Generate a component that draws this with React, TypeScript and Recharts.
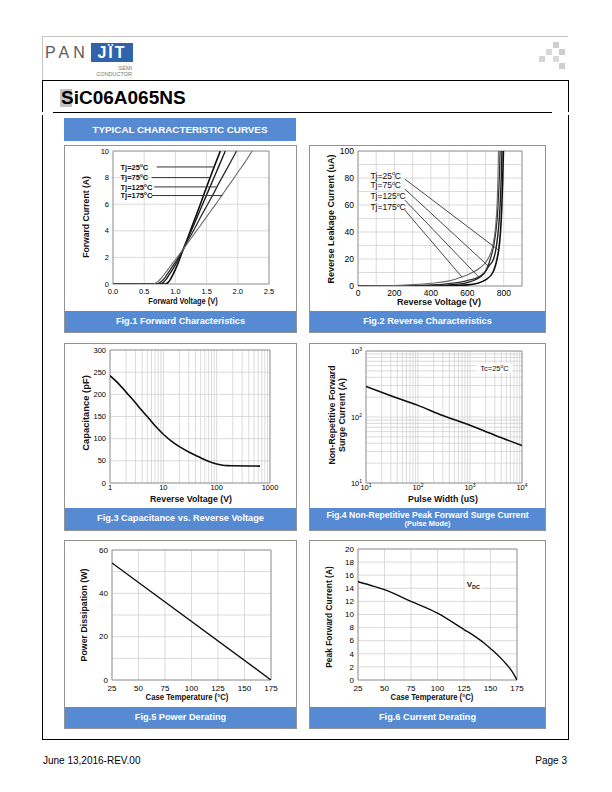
import React from 'react';
import {
  LineChart,
  Line,
  XAxis,
  YAxis,
  CartesianGrid,
  ReferenceLine,
  ReferenceDot,
  ReferenceArea,
} from 'recharts';

const SANS = '"Liberation Sans", Arial, Helvetica, sans-serif';
const BLUE = '#568bd4';
const GRID = '#d2d2d2';
const EDGE = '#9a9a9a';
const PANEL = '#939393';

// ---------- Fig.1 Forward characteristics
const fwdTicksX = [0, 0.5, 1, 1.5, 2, 2.5];
const fwdTicksY = [0, 2, 4, 6, 8, 10];
const fwdV25 = [0, 0.84, 0.88, 0.92, 0.96, 1.0, 1.05, 1.1, 1.2, 1.3, 1.4, 1.5, 1.6, 1.72];
const fwdI25 = [0, 0, 0.1, 0.35, 0.7, 1.1, 1.65, 2.3, 3.5, 4.75, 6.0, 7.3, 8.55, 10];
const fwdV75 = [0, 0.76, 0.8, 0.85, 0.9, 0.95, 1.0, 1.05, 1.1, 1.2, 1.3, 1.4, 1.5, 1.6, 1.7, 1.8];
const fwdI75 = [0, 0, 0.1, 0.35, 0.7, 1.05, 1.45, 1.9, 2.35, 3.4, 4.5, 5.6, 6.7, 7.8, 8.9, 10];
const fwdV125 = [0, 0.7, 0.75, 0.8, 0.85, 0.9, 0.95, 1.0, 1.05, 1.1, 1.2, 1.3, 1.4, 1.5, 1.6, 1.7, 1.8, 1.9, 1.98];
const fwdI125 = [0, 0, 0.1, 0.3, 0.6, 0.95, 1.3, 1.65, 2.0, 2.4, 3.25, 4.1, 5.0, 5.85, 6.7, 7.6, 8.45, 9.3, 10];
const fwdV175 = [0, 0.64, 0.7, 0.75, 0.8, 0.85, 0.9, 0.95, 1.0, 1.05, 1.1, 1.2, 1.3, 1.4, 1.5, 1.6, 1.7, 1.8, 1.9, 2.0, 2.1, 2.23];
const fwdI175 = [0, 0, 0.12, 0.32, 0.6, 0.9, 1.22, 1.53, 1.84, 2.14, 2.45, 3.1, 3.75, 4.4, 5.05, 5.7, 6.35, 7.05, 7.7, 8.4, 9.05, 10];
const fwdTemps = ['25', '75', '125', '175'];
const fwdTagX = 0.12;
const fwdTagY = [8.8, 8.0, 7.3, 6.65];
const fwdLeadStart = [0.7, 0.62, 0.66, 0.62];
const fwdLeadEnd = [1.62, 1.56, 1.66, 1.75];

// ---------- Fig.2 Reverse characteristics
const revTicksX = [0, 100, 200, 300, 400, 500, 600, 700, 800, 900];
const revLabelsX = [0, 200, 400, 600, 800];
const revTicksY = [0, 10, 20, 30, 40, 50, 60, 70, 80, 90, 100];
const revLabelsY = [0, 20, 40, 60, 80, 100];
const revV25 = [0, 400, 500, 600, 650, 700, 740, 763, 772, 782, 789, 794, 798];
const revI25 = [0, 0.05, 0.2, 0.8, 1.8, 4.5, 10, 20, 26.5, 40, 58, 78, 100];
const revV75 = [0, 300, 400, 500, 600, 650, 690, 717, 744, 760, 772, 780, 786, 790];
const revI75 = [0, 0.1, 0.3, 0.8, 2.5, 5, 9, 14.6, 20, 30, 44, 60, 80, 100];
const revV125 = [0, 200, 300, 400, 500, 600, 662, 700, 726, 745, 758, 767, 773, 777, 780];
const revI125 = [0, 0.1, 0.3, 0.8, 1.8, 4, 6.7, 11, 20, 30, 42, 56, 72, 86, 100];
const revV175 = [0, 100, 200, 300, 400, 500, 570, 620, 670, 713, 740, 755, 763, 768, 771];
const revI175 = [0, 0.1, 0.4, 1, 2, 3.8, 6.7, 9.5, 13.5, 20, 30, 44, 60, 80, 100];
const revTemps = ['25', '75', '125', '175'];
const revTagX = 68;
const revTagY = [81.7, 74.8, 66.8, 58.7];
const revLeadX0 = 257;
const revLeadY0 = [79.2, 71.8, 63.6, 56.2];
const revLeadX1 = [772, 717, 662, 570];
const revLeadY1 = [26.5, 14.6, 6.7, 6.7];

// ---------- Fig.3 Capacitance
const capTicksX = [1, 2, 3, 4, 5, 6, 7, 8, 9, 10, 20, 30, 40, 50, 60, 70, 80, 90, 100, 200, 300, 400, 500, 600, 700, 800, 900, 1000];
const capLabelsX = [1, 10, 100, 1000];
const capTicksY = [0, 50, 100, 150, 200, 250, 300];
const capV = [1, 1.5, 2, 3, 4, 5, 7, 10, 15, 20, 30, 50, 70, 100, 130, 160, 200, 400, 650];
const capPF = [242, 222, 205, 181, 163, 150, 129, 110, 92, 82, 70, 57, 49, 43, 40, 39.2, 39, 38.5, 38];

// ---------- Fig.4 Surge current
const surgeTicksX = [10, 20, 30, 40, 50, 60, 70, 80, 90, 100, 200, 300, 400, 500, 600, 700, 800, 900, 1000, 2000, 3000, 4000, 5000, 6000, 7000, 8000, 9000, 10000];
const surgeLabelsX = [10, 100, 1000, 10000];
const surgeTicksY = [10, 20, 30, 40, 50, 60, 70, 80, 90, 100, 200, 300, 400, 500, 600, 700, 800, 900, 1000];
const surgeLabelsY = [10, 100, 1000];
const surgeUs = [10, 30, 100, 300, 1000, 3000, 10000];
const surgeA = [290, 210, 150, 105, 75, 53, 37];

// ---------- Fig.5 Power derating
const tempTicks = [25, 50, 75, 100, 125, 150, 175];
const pdTicksY = [0, 10, 20, 30, 40, 50, 60];
const pdLabelsY = [0, 20, 40, 60];
const pdT = [25, 175];
const pdW = [54, 0];

// ---------- Fig.6 Current derating
const ifTicksY = [0, 2, 4, 6, 8, 10, 12, 14, 16, 18, 20];
const ifT = [25, 40, 50, 75, 100, 125, 135, 145, 150, 155, 160, 165, 170, 175];
const ifA = [15, 14.3, 13.8, 12, 10.2, 7.7, 6.7, 5.5, 4.8, 4.1, 3.3, 2.4, 1.4, 0];

type Pt = { x: number; y: number };
const zip = (xs: number[], ys: number[]): Pt[] => xs.map((x, i) => ({ x, y: ys[i] }));

const fixed1 = (v: number) => v.toFixed(1);
const plain = (v: number) => String(v);
const only = (list: number[]) => (v: number) => (list.includes(v) ? String(v) : null);
const pow10 = (list: number[]) => (v: number) =>
  list.includes(v) ? (
    <>
      10
      <tspan dy={-3} fontSize={5}>
        {Math.round(Math.log10(v))}
      </tspan>
    </>
  ) : null;

function tickOf(side: 'x' | 'y', size: number, fmt: (v: number) => React.ReactNode) {
  return (p: any) => {
    const c = fmt(p.payload.value);
    if (c === null) return <g />;
    return (
      <text
        x={p.x}
        y={p.y}
        dy={side === 'x' ? '0.72em' : '0.34em'}
        textAnchor={side === 'x' ? 'middle' : 'end'}
        fontSize={size}
        fontFamily={SANS}
        fill="#000"
      >
        {c}
      </text>
    );
  };
}

function centerOf(vb: any) {
  const v = vb || {};
  return { x: (v.x ?? 0) + (v.width ?? 0) / 2, y: (v.y ?? 0) + (v.height ?? 0) / 2 };
}

function TjTag(props: any) {
  const { x, y } = centerOf(props.viewBox);
  const s = props.size;
  return (
    <text x={x} y={y} dy="0.35em" fontSize={s} fontWeight={props.bold ? 700 : 400} fontFamily={SANS} fill="#111">
      {'Tj=' + props.temp}
      <tspan fontSize={s * 0.62} dy={-s * 0.38}>
        o
      </tspan>
      <tspan dy={s * 0.38}>C</tspan>
    </text>
  );
}

function BoxTag(props: any) {
  const { x, y } = centerOf(props.viewBox);
  return (
    <g>
      <rect x={x - props.w / 2} y={y - props.h / 2} width={props.w} height={props.h} fill="#fff" />
      <text
        x={x}
        y={y}
        dy="0.35em"
        textAnchor="middle"
        fontSize={props.size}
        fontWeight={props.bold ? 700 : 400}
        fontFamily={SANS}
        fill="#111"
      >
        {props.children}
      </text>
    </g>
  );
}

interface PlotProps {
  left: number;
  top: number;
  width: number;
  height: number;
  yw: number;
  xh: number;
  mt: number;
  mr: number;
  xDomain: [number, number];
  yDomain: [number, number];
  xTicks: number[];
  yTicks: number[];
  xLog?: boolean;
  yLog?: boolean;
  xFmt: (v: number) => React.ReactNode;
  yFmt: (v: number) => React.ReactNode;
  fs: number;
  xGap?: number;
  children?: React.ReactNode;
}

function Plot(p: PlotProps) {
  const gap = p.xGap ?? 5;
  return (
    <div style={{ position: 'absolute', left: p.left, top: p.top }}>
      <LineChart width={p.width} height={p.height} margin={{ top: p.mt, right: p.mr, bottom: 0, left: 0 }}>
        <CartesianGrid stroke={GRID} strokeWidth={0.8} />
        <XAxis
          type="number"
          dataKey="x"
          domain={p.xDomain}
          ticks={p.xTicks}
          scale={p.xLog ? 'log' : 'linear'}
          allowDataOverflow
          interval={0}
          height={p.xh}
          axisLine={false}
          tickLine={false}
          tickSize={gap - 1}
          tickMargin={1}
          tick={tickOf('x', p.fs, p.xFmt)}
        />
        <YAxis
          type="number"
          domain={p.yDomain}
          ticks={p.yTicks}
          scale={p.yLog ? 'log' : 'linear'}
          allowDataOverflow
          interval={0}
          width={p.yw}
          axisLine={false}
          tickLine={false}
          tickSize={2}
          tickMargin={2}
          tick={tickOf('y', p.fs, p.yFmt)}
        />
        <ReferenceArea
          x1={p.xDomain[0]}
          x2={p.xDomain[1]}
          y1={p.yDomain[0]}
          y2={p.yDomain[1]}
          fill="none"
          stroke={EDGE}
          strokeWidth={1}
        />
        {p.children}
      </LineChart>
    </div>
  );
}

function Panel({ x, y, w, h, bar, children }: { x: number; y: number; w: number; h: number; bar: number; children: React.ReactNode }) {
  return (
    <div
      style={{
        position: 'absolute',
        left: x,
        top: y,
        width: w,
        height: h,
        border: `1.3px solid ${PANEL}`,
        boxSizing: 'border-box',
      }}
    >
      <div
        style={{
          position: 'absolute',
          left: 0,
          right: 0,
          bottom: 0,
          height: bar,
          background: BLUE,
          color: '#fff',
          fontWeight: 700,
          textAlign: 'center',
          display: 'flex',
          flexDirection: 'column',
          justifyContent: 'center',
          fontSize: 9.2,
          lineHeight: 1.05,
        }}
      >
        {children}
      </div>
    </div>
  );
}

function Title({ x, y, size, vertical, sx = 1, weight = 700, children }: any) {
  return (
    <div
      style={{
        position: 'absolute',
        left: x,
        top: y,
        transform: `translate(-50%, -50%) rotate(${vertical ? -90 : 0}deg) scaleX(${sx})`,
        whiteSpace: 'nowrap',
        fontSize: size,
        fontWeight: weight,
        lineHeight: 1.1,
        color: '#111',
        textAlign: 'center',
      }}
    >
      {children}
    </div>
  );
}

const fwdCurves = [zip(fwdV25, fwdI25), zip(fwdV75, fwdI75), zip(fwdV125, fwdI125), zip(fwdV175, fwdI175)];
const revCurves = [zip(revV25, revI25), zip(revV75, revI75), zip(revV125, revI125), zip(revV175, revI175)];
const curveColors = ['#0d0d0d', '#1e1e1e', '#2e2e2e', '#6a6a6a'];
const curveWidths = [1.6, 1.4, 1.3, 1.1];

export default function App() {
  return (
    <div
      style={{
        position: 'absolute',
        left: 0,
        top: 0,
        width: 612,
        height: 792,
        background: '#fff',
        fontFamily: SANS,
        overflow: 'hidden',
      }}
    >
      {/* header rule and logo */}
      <div style={{ position: 'absolute', left: 42, top: 36, width: 526, height: 1, background: '#c6c6c6' }} />
      <div style={{ position: 'absolute', left: 42, top: 36, width: 1, height: 44, background: '#c6c6c6' }} />
      <div style={{ position: 'absolute', left: 45, top: 44, fontSize: 16, letterSpacing: 4, color: '#5c5c5c', lineHeight: '18px' }}>
        PAN
      </div>
      <div
        style={{
          position: 'absolute',
          left: 91,
          top: 43,
          width: 42,
          height: 19,
          background: '#2f63ab',
          color: '#fff',
          fontWeight: 700,
          fontSize: 16,
          textAlign: 'center',
          lineHeight: '20px',
          letterSpacing: 2,
        }}
      >
        JÏT
      </div>
      <div style={{ position: 'absolute', right: 480, top: 65, fontSize: 5.5, color: '#777', lineHeight: '6px' }}>SEMI</div>
      <div style={{ position: 'absolute', right: 480, top: 71, fontSize: 5.5, color: '#777', lineHeight: '6px' }}>CONDUCTOR</div>
      {[
        [553, 42, '#cfcfcf'],
        [546, 49, '#d8d8d8'],
        [559, 49, '#cdcdcd'],
        [539, 56, '#d6d6d6'],
        [553, 56, '#dadada'],
        [559, 63, '#cfcfcf'],
      ].map(([l, t, c], i) => (
        <div key={i} style={{ position: 'absolute', left: l as number, top: t as number, width: 6, height: 6, background: c as string }} />
      ))}

      {/* frame */}
      <div
        style={{
          position: 'absolute',
          left: 42,
          top: 80,
          width: 527,
          height: 32,
          borderTop: '1.3px solid #000',
          borderLeft: '1.3px solid #000',
          borderRight: '1.3px solid #000',
          boxSizing: 'border-box',
        }}
      />
      <div style={{ position: 'absolute', left: 53, top: 112, width: 499, height: 1.3, background: '#000' }} />
      <div
        style={{
          position: 'absolute',
          left: 42,
          top: 115,
          width: 527,
          height: 625,
          borderBottom: '1.3px solid #000',
          borderLeft: '1.3px solid #000',
          borderRight: '1.3px solid #000',
          boxSizing: 'border-box',
        }}
      />
      <div style={{ position: 'absolute', left: 60, top: 89, width: 12, height: 18, background: '#c3c3c3' }} />
      <div style={{ position: 'absolute', left: 61, top: 87.7, fontSize: 19, fontWeight: 700, lineHeight: '19px', color: '#000' }}>
        SiC06A065NS
      </div>
      <div
        style={{
          position: 'absolute',
          left: 64,
          top: 118,
          width: 232,
          height: 23,
          background: BLUE,
          color: '#fff',
          fontWeight: 700,
          fontSize: 9.8,
          lineHeight: '23px',
          textAlign: 'center',
        }}
      >
        TYPICAL CHARACTERISTIC CURVES
      </div>

      {/* panels */}
      <Panel x={64} y={145} w={233} h={188} bar={21}>Fig.1 Forward Characteristics</Panel>
      <Panel x={309} y={145} w={237} h={188} bar={21}>Fig.2 Reverse Characteristics</Panel>
      <Panel x={64} y={343} w={233} h={188} bar={22}>Fig.3 Capacitance vs. Reverse Voltage</Panel>
      <Panel x={309} y={343} w={237} h={188} bar={22}>
        <div style={{ fontSize: 8.6 }}>Fig.4 Non-Repetitive Peak Forward Surge Current</div>
        <div style={{ fontSize: 7.4 }}>(Pulse Mode)</div>
      </Panel>
      <Panel x={64} y={540} w={233} h={189} bar={21}>Fig.5 Power Derating</Panel>
      <Panel x={309} y={540} w={237} h={189} bar={21}>Fig.6 Current Derating</Panel>

      {/* Fig.1 */}
      <Plot
        left={65}
        top={146}
        width={231}
        height={165}
        yw={48}
        xh={27}
        mt={5}
        mr={27}
        xDomain={[0, 2.5]}
        yDomain={[0, 10]}
        xTicks={fwdTicksX}
        yTicks={fwdTicksY}
        xFmt={fixed1}
        yFmt={plain}
        fs={7.5}
      >
        {fwdCurves.map((c, i) => (
          <Line
            key={'c' + i}
            data={c}
            dataKey="y"
            type="monotone"
            stroke={curveColors[i]}
            strokeWidth={curveWidths[i]}
            dot={false}
            isAnimationActive={false}
          />
        ))}
        {fwdTemps.map((t, i) => (
          <ReferenceLine
            key={'l' + i}
            segment={[
              { x: fwdLeadStart[i], y: fwdTagY[i] },
              { x: fwdLeadEnd[i], y: fwdTagY[i] },
            ]}
            stroke="#333"
            strokeWidth={1}
          />
        ))}
        {fwdTemps.map((t, i) => (
          <ReferenceDot
            key={'t' + i}
            x={fwdTagX}
            y={fwdTagY[i]}
            r={0}
            fill="none"
            stroke="none"
            label={<TjTag temp={t} size={7.5} bold />}
          />
        ))}
      </Plot>
      <Title x={87} y={217} size={8.6} vertical>Forward Current (A)</Title>
      <Title x={183} y={302} size={8.6} sx={0.86}>Forward Voltage (V)</Title>

      {/* Fig.2 */}
      <Plot
        left={310}
        top={146}
        width={235}
        height={165}
        yw={48}
        xh={25}
        mt={5}
        mr={23}
        xDomain={[0, 900]}
        yDomain={[0, 100]}
        xTicks={revTicksX}
        yTicks={revTicksY}
        xFmt={only(revLabelsX)}
        yFmt={only(revLabelsY)}
        fs={8.5}
        xGap={4}
      >
        {revCurves.map((c, i) => (
          <Line
            key={'c' + i}
            data={c}
            dataKey="y"
            type="monotone"
            stroke={curveColors[i]}
            strokeWidth={curveWidths[i]}
            dot={false}
            isAnimationActive={false}
          />
        ))}
        {revTemps.map((t, i) => (
          <ReferenceLine
            key={'l' + i}
            segment={[
              { x: revLeadX0, y: revLeadY0[i] },
              { x: revLeadX1[i], y: revLeadY1[i] },
            ]}
            stroke="#333"
            strokeWidth={0.9}
          />
        ))}
        {revTemps.map((t, i) => (
          <ReferenceDot
            key={'t' + i}
            x={revTagX}
            y={revTagY[i]}
            r={0}
            fill="none"
            stroke="none"
            label={<TjTag temp={t} size={8.5} />}
          />
        ))}
      </Plot>
      <Title x={332} y={219} size={9} vertical>Reverse Leakage Current (uA)</Title>
      <Title x={439} y={303} size={9}>Reverse Voltage (V)</Title>

      {/* Fig.3 */}
      <Plot
        left={65}
        top={344}
        width={231}
        height={163}
        yw={45}
        xh={24}
        mt={6}
        mr={26}
        xDomain={[1, 1000]}
        yDomain={[0, 300]}
        xTicks={capTicksX}
        yTicks={capTicksY}
        xLog
        xFmt={only(capLabelsX)}
        yFmt={plain}
        fs={7.5}
        xGap={2}
      >
        <Line
          data={zip(capV, capPF)}
          dataKey="y"
          type="monotone"
          stroke="#0d0d0d"
          strokeWidth={1.6}
          dot={false}
          isAnimationActive={false}
        />
      </Plot>
      <Title x={86} y={413} size={9.4} vertical>Capacitance (pF)</Title>
      <Title x={191} y={500} size={8.8}>Reverse Voltage (V)</Title>

      {/* Fig.4 */}
      <Plot
        left={310}
        top={344}
        width={235}
        height={163}
        yw={56}
        xh={24}
        mt={7}
        mr={23}
        xDomain={[10, 10000]}
        yDomain={[10, 1000]}
        xTicks={surgeTicksX}
        yTicks={surgeTicksY}
        xLog
        yLog
        xFmt={pow10(surgeLabelsX)}
        yFmt={pow10(surgeLabelsY)}
        fs={7.5}
        xGap={2}
      >
        <Line
          data={zip(surgeUs, surgeA)}
          dataKey="y"
          type="monotone"
          stroke="#0d0d0d"
          strokeWidth={1.6}
          dot={false}
          isAnimationActive={false}
        />
        <ReferenceDot
          x={2950}
          y={547}
          r={0}
          fill="none"
          stroke="none"
          label={
            <BoxTag w={36} h={10} size={7.5}>
              Tc=25
              <tspan fontSize={4.8} dy={-2.8}>
                o
              </tspan>
              <tspan dy={2.8}>C</tspan>
            </BoxTag>
          }
        />
      </Plot>
      <Title x={338} y={415} size={8.8} vertical>
        Non-Repetitive Forward
        <br />
        Surge Current (A)
      </Title>
      <Title x={443} y={499.5} size={8.8}>Pulse Width (uS)</Title>

      {/* Fig.5 */}
      <Plot
        left={65}
        top={541}
        width={231}
        height={165}
        yw={47}
        xh={26}
        mt={9}
        mr={25}
        xDomain={[25, 175]}
        yDomain={[0, 60]}
        xTicks={tempTicks}
        yTicks={pdTicksY}
        xFmt={plain}
        yFmt={only(pdLabelsY)}
        fs={8}
      >
        <Line
          data={zip(pdT, pdW)}
          dataKey="y"
          type="linear"
          stroke="#0d0d0d"
          strokeWidth={1.4}
          dot={false}
          isAnimationActive={false}
        />
      </Plot>
      <Title x={85} y={615} size={8.8} vertical>Power Dissipation (W)</Title>
      <Title x={187} y={698} size={8.6} sx={0.9}>Case Temperature (°C)</Title>

      {/* Fig.6 */}
      <Plot
        left={310}
        top={541}
        width={235}
        height={165}
        yw={48}
        xh={26}
        mt={8}
        mr={28}
        xDomain={[25, 175]}
        yDomain={[0, 20]}
        xTicks={tempTicks}
        yTicks={ifTicksY}
        xFmt={plain}
        yFmt={plain}
        fs={8}
      >
        <Line
          data={zip(ifT, ifA)}
          dataKey="y"
          type="monotone"
          stroke="#0d0d0d"
          strokeWidth={1.4}
          dot={false}
          isAnimationActive={false}
        />
        <ReferenceDot
          x={133.8}
          y={14.6}
          r={0}
          fill="none"
          stroke="none"
          label={
            <BoxTag w={16} h={11} size={8} bold>
              V
              <tspan fontSize={5.5} dy={2}>
                DC
              </tspan>
            </BoxTag>
          }
        />
      </Plot>
      <Title x={330} y={617} size={8.4} vertical>Peak Forward Current (A)</Title>
      <Title x={432} y={698} size={8.6} sx={0.9}>Case Temperature (°C)</Title>

      {/* footer */}
      <div style={{ position: 'absolute', left: 43, top: 755, fontSize: 10, lineHeight: '12px', color: '#000' }}>
        June 13,2016-REV.00
      </div>
      <div style={{ position: 'absolute', right: 45, top: 755, fontSize: 10, lineHeight: '12px', color: '#000' }}>
        Page 3
      </div>
    </div>
  );
}
